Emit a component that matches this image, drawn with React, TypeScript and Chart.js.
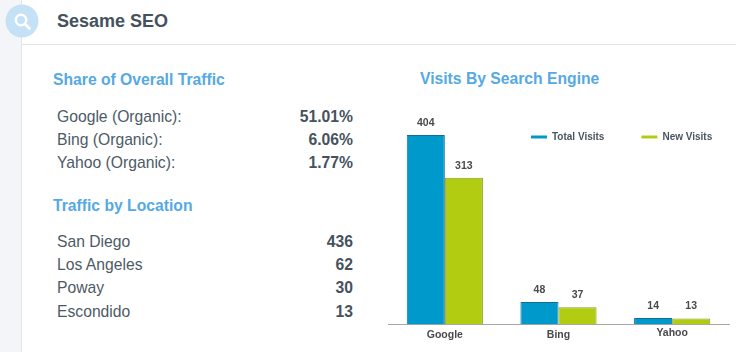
import React, { useEffect, useRef } from "react";
import { Chart, registerables } from "chart.js";

Chart.register(...registerables);

const engines = ["Google", "Bing", "Yahoo"];
const totalVisits = [404, 48, 14];
const newVisits = [313, 37, 13];
const shareRows = [
  ["Google (Organic):", "51.01%"],
  ["Bing (Organic):", "6.06%"],
  ["Yahoo (Organic):", "1.77%"],
];
const locationRows = [
  ["San Diego", "436"],
  ["Los Angeles", "62"],
  ["Poway", "30"],
  ["Escondido", "13"],
];
const tickNudge = [0, 0.5, -2];

const FONT = '"Liberation Sans", Arial, sans-serif';

const valueLabels = {
  id: "valueLabels",
  afterDatasetsDraw(chart: any) {
    const { ctx } = chart;
    ctx.save();
    ctx.font = `bold 10.5px ${FONT}`;
    ctx.fillStyle = "#4a4a4a";
    ctx.textAlign = "center";
    ctx.textBaseline = "middle";
    chart.data.datasets.forEach((ds: any, i: number) => {
      chart.getDatasetMeta(i).data.forEach((bar: any, j: number) => {
        ctx.fillText(String(ds.data[j]), bar.x, bar.y - 12);
      });
    });
    ctx.restore();
  },
};

const legendPlacer = {
  id: "legendPlacer",
  afterLayout(chart: any) {
    const l = chart.legend;
    const w = l.width;
    l.left = 494;
    l.right = 494 + w;
    l.top = 95;
    l.bottom = 95 + l.height;
  },
  beforeDraw(chart: any) {
    const items = chart.scales.x.getLabelItems();
    items.forEach((it: any, i: number) => {
      if (it.__nudged) return;
      it.__nudged = true;
      const t = it.options.translation;
      it.options.translation = [t[0], t[1] + tickNudge[i]];
    });
  },
};

function Row({ label, value, top }: { label: string; value: string; top: number }) {
  return (
    <div style={{ position: "absolute", left: 57, width: 296, top, height: 24, lineHeight: "24px", fontSize: 15.7, color: "#4c5a66" }}>
      <span>{label}</span>
      <span style={{ position: "absolute", right: 0, fontWeight: 700, color: "#45525d" }}>{value}</span>
    </div>
  );
}

function Heading({ text, left, top }: { text: string; left: number; top: number }) {
  return (
    <div style={{ position: "absolute", left, top, height: 20, lineHeight: "20px", fontSize: 15.7, fontWeight: 700, color: "#55a9e4", whiteSpace: "nowrap" }}>{text}</div>
  );
}

export default function App() {
  const ref = useRef<HTMLCanvasElement>(null);
  useEffect(() => {
    const chart = new Chart(ref.current!, {
      type: "bar",
      data: {
        labels: engines,
        datasets: [
          { label: "Total Visits", data: totalVisits, backgroundColor: "#0099cc", borderColor: "#0f6f98", borderWidth: 1 },
          { label: "New Visits", data: newVisits, backgroundColor: "#b2cc12", borderColor: "#8c9f1c", borderWidth: 1 },
        ],
      },
      options: {
        responsive: false,
        animation: false,
        layout: { padding: { left: 388, right: 7, top: 33, bottom: 0 } },
        datasets: { bar: { categoryPercentage: 0.67, barPercentage: 1 } },
        scales: {
          x: {
            grid: { display: false, tickLength: 0 },
            border: { color: "#a8a8a8", width: 1 },
            ticks: { color: "#4a4a4a", font: { family: FONT, size: 10.5, weight: "bold" }, padding: 4, maxRotation: 0 },
            afterFit(s: any) { s.height = 27.5; },
          },
          y: { display: false, min: 0, max: 500 },
        },
        plugins: {
          tooltip: { enabled: false },
          legend: {
            position: "top",
            align: "start",
            fullSize: false,
            labels: {
              boxWidth: 16,
              boxHeight: 3,
              padding: 37,
              color: "#4a5560",
              font: { family: FONT, size: 10, weight: "bold" },
              generateLabels(c: any) {
                return c.data.datasets.map((d: any, i: number) => ({
                  text: d.label,
                  fillStyle: d.backgroundColor,
                  strokeStyle: d.backgroundColor,
                  lineWidth: 0,
                  fontColor: "#4a5560",
                  datasetIndex: i,
                }));
              },
            },
          },
        },
      } as any,
      plugins: [valueLabels, legendPlacer],
    });
    return () => chart.destroy();
  }, []);

  return (
    <div style={{ position: "fixed", left: 0, top: 0, width: 736, height: 352, overflow: "hidden", background: "#fff", fontFamily: FONT }}>
      <div style={{ position: "absolute", left: 0, top: 0, width: 21, height: 352, background: "#f3f5f8", borderRight: "1px solid #e3e5e8" }} />
      <div style={{ position: "absolute", left: 22, top: 0, right: 0, height: 44, borderBottom: "1px solid #e1e3e6" }} />
      <svg width="34" height="34" style={{ position: "absolute", left: 5, top: 4 }}>
        <circle cx="17" cy="17" r="16.5" fill="#c4e1f6" />
        <circle cx="16" cy="16" r="5.2" fill="none" stroke="#fff" strokeWidth="2.4" />
        <line x1="20" y1="20" x2="24.5" y2="24.5" stroke="#fff" strokeWidth="2.8" strokeLinecap="round" />
      </svg>
      <div style={{ position: "absolute", left: 57, top: 9, height: 24, lineHeight: "24px", fontSize: 18, fontWeight: 700, color: "#45525d" }}>Sesame SEO</div>
      <Heading text="Share of Overall Traffic" left={53} top={70} />
      {shareRows.map((r, i) => <Row key={r[0]} label={r[0]} value={r[1]} top={104.5 + i * 23.4} />)}
      <Heading text="Traffic by Location" left={53} top={195.5} />
      {locationRows.map((r, i) => <Row key={r[0]} label={r[0]} value={r[1]} top={229.5 + i * 23.4} />)}
      <Heading text="Visits By Search Engine" left={420} top={69} />
      <canvas ref={ref} width={736} height={352} style={{ position: "absolute", left: 0, top: 0, display: "block" }} />
    </div>
  );
}
